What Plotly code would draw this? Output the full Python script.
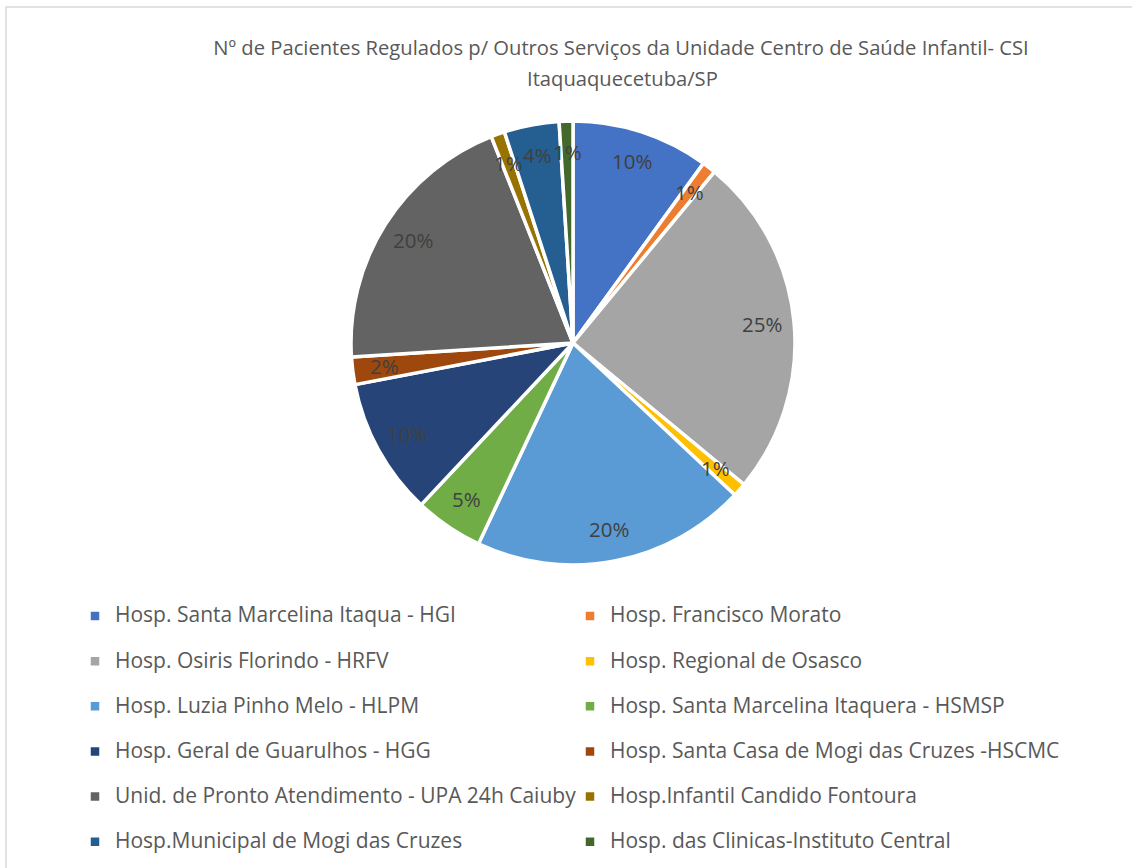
import math
import plotly.graph_objects as go

labels = [
    "Hosp. Santa Marcelina Itaqua - HGI",
    "Hosp. Francisco Morato",
    "Hosp. Osiris Florindo - HRFV",
    "Hosp. Regional de Osasco",
    "Hosp. Luzia Pinho Melo - HLPM",
    "Hosp. Santa Marcelina Itaquera - HSMSP",
    "Hosp. Geral de Guarulhos - HGG",
    "Hosp. Santa Casa de Mogi das Cruzes -HSCMC",
    "Unid. de Pronto Atendimento - UPA 24h Caiuby",
    "Hosp.Infantil Candido Fontoura",
    "Hosp.Municipal de Mogi das Cruzes",
    "Hosp. das Clinicas-Instituto Central",
]
values = [10, 1, 25, 1, 20, 5, 10, 2, 20, 1, 4, 1]
colors = ["#4472C4", "#ED7D31", "#A5A5A5", "#FFC000", "#5B9BD5", "#70AD47",
          "#264478", "#9E480E", "#636363", "#997300", "#255E91", "#43682B"]

title_line1 = "Nº de Pacientes Regulados p/ Outros Serviços da Unidade Centro de Saúde Infantil- CSI"
title_line2 = "Itaquaquecetuba/SP"

W, H = 1132, 868
FONT = "Open Sans"
GREY = "#595959"

# pie geometry (pixels)
pcx, pcy, pr = 573, 343, 222
dom_x = [(pcx - pr) / W, (pcx + pr) / W]
dom_y = [1 - (pcy + pr) / H, 1 - (pcy - pr) / H]

legend_text = [
    "\u00a0<br><span style='font-size:21px'>" + l + "</span>" for l in labels
]

fig = go.Figure()
fig.add_trace(go.Pie(
    labels=legend_text,
    values=values,
    sort=False,
    direction="clockwise",
    rotation=0,
    marker=dict(colors=colors, line=dict(color="white", width=3.5)),
    textinfo="none",
    hoverinfo="label+percent",
    domain=dict(x=dom_x, y=dom_y),
))

# percentage labels placed along each slice's mid-angle
total = sum(values)
annotations = []
cum = 0
for v in values:
    mid = (cum + v / 2) / total * 2 * math.pi
    cum += v
    rr = 190
    xp = pcx + rr * math.sin(mid)
    yp = (pcy - 1) - rr * math.cos(mid)
    annotations.append(dict(
        x=xp / W, y=1 - yp / H, xref="paper", yref="paper",
        text=f"{round(v / total * 100)}%", showarrow=False,
        font=dict(family=FONT, size=20.5, color="#404040"),
        xanchor="center", yanchor="middle",
    ))

annotations.append(dict(
    x=622 / W, y=1 - 78 / H, xref="paper", yref="paper",
    text=title_line2, showarrow=False,
    font=dict(family=FONT, size=20.2, color=GREY),
    xanchor="center", yanchor="middle",
))

fig.update_layout(
    width=W, height=H,
    margin=dict(l=0, r=0, t=0, b=0),
    paper_bgcolor="white",
    plot_bgcolor="white",
    font=dict(family=FONT, color=GREY),
    title=dict(text=title_line1, x=621 / W, xanchor="center",
               y=1 - 48 / H, yanchor="middle",
               font=dict(family=FONT, size=20.2, color=GREY)),
    showlegend=True,
    legend=dict(
        orientation="h",
        x=75 / W, xanchor="left",
        y=1 - 578 / H, yanchor="top",
        entrywidth=450, entrywidthmode="pixels",
        valign="bottom",
        itemwidth=30,
        font=dict(family=FONT, size=16.2, color=GREY),
        bgcolor="rgba(0,0,0,0)",
    ),
    annotations=annotations,
    shapes=[dict(type="rect", xref="paper", yref="paper",
                 x0=6 / W, x1=1.05, y0=-0.05, y1=1 - 7 / H,
                 line=dict(color="#D9D9D9", width=1.5),
                 fillcolor="rgba(0,0,0,0)", layer="below")],
)

fig.write_html("out.html", config={"displayModeBar": False},
               post_script="document.body.style.margin='0';document.body.style.overflow='hidden';")
